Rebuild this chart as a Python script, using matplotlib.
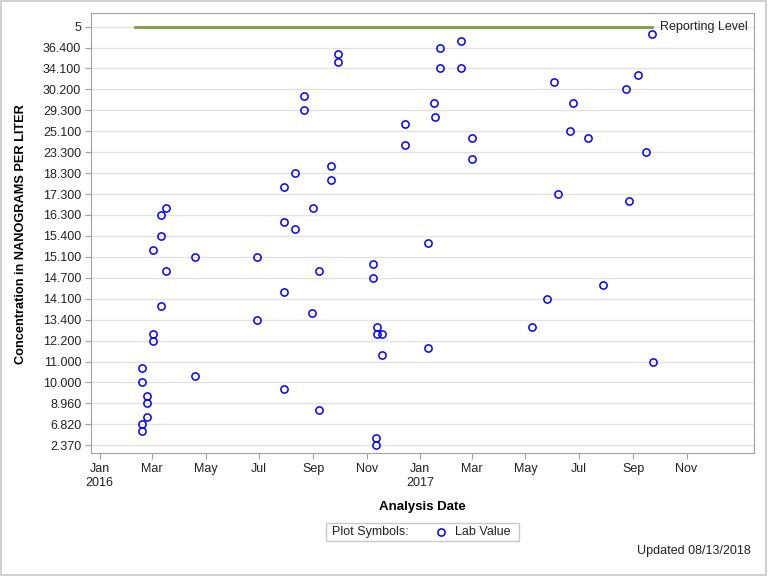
import numpy as np
import pandas as pd
import matplotlib
matplotlib.use("Agg")
import matplotlib.pyplot as plt
from matplotlib.patches import Rectangle
from matplotlib.lines import Line2D

plt.rcParams['font.family'] = ['Liberation Sans', 'DejaVu Sans']

# y axis categories, bottom to top (axis slot 0..20)
y_labels = ['2.370', '6.820', '8.960', '10.000', '11.000', '12.200', '13.400',
            '14.100', '14.700', '15.100', '15.400', '16.300', '17.300', '18.300',
            '23.300', '25.100', '29.300', '30.200', '34.100', '36.400', '5']

# lab values: sample date and position on the y axis (in slot units)
lab_dates = ['2016-02-18', '2016-02-18', '2016-02-18', '2016-02-18',
             '2016-02-24', '2016-02-24', '2016-02-24',
             '2016-03-02', '2016-03-02', '2016-03-02',
             '2016-03-11', '2016-03-11', '2016-03-11',
             '2016-03-17', '2016-03-17',
             '2016-04-19', '2016-04-19',
             '2016-06-29', '2016-06-29',
             '2016-07-29', '2016-07-29', '2016-07-29', '2016-07-29',
             '2016-08-11', '2016-08-11',
             '2016-08-21', '2016-08-21',
             '2016-08-30', '2016-08-31',
             '2016-09-07', '2016-09-07',
             '2016-09-21', '2016-09-21',
             '2016-09-29', '2016-09-29',
             '2016-11-08', '2016-11-08',
             '2016-11-11', '2016-11-11',
             '2016-11-12', '2016-11-12',
             '2016-11-18', '2016-11-18',
             '2016-12-14', '2016-12-14',
             '2017-01-10', '2017-01-10', '2017-01-17', '2017-01-18',
             '2017-01-23', '2017-01-23',
             '2017-02-17', '2017-02-17',
             '2017-03-01', '2017-03-01',
             '2017-05-08', '2017-05-26', '2017-06-03', '2017-06-07',
             '2017-06-21', '2017-06-24', '2017-07-11', '2017-07-29',
             '2017-08-24', '2017-08-27', '2017-09-07', '2017-09-16',
             '2017-09-23', '2017-09-24']
lab_pos = [3.67, 3.0, 1.0, 0.67,
           2.33, 2.0, 1.33,
           9.33, 5.33, 5.0,
           11.0, 10.0, 6.67,
           11.33, 8.33,
           9.0, 3.33,
           9.0, 6.0,
           12.33, 10.67, 7.33, 2.67,
           13.0, 10.33,
           16.67, 16.0,
           6.33, 11.33,
           8.33, 1.67,
           13.33, 12.67,
           18.67, 18.33,
           8.67, 8.0,
           0.33, 0.0,
           5.67, 5.33,
           5.33, 4.33,
           15.33, 14.33,
           9.67, 4.67, 16.33, 15.67,
           19.0, 18.0,
           19.33, 18.0,
           14.67, 13.67,
           5.67, 7.0, 17.33, 12.0,
           15.0, 16.33, 14.67, 7.67,
           17.0, 11.67, 17.67, 14.0,
           19.67, 4.0]

# reporting level line (drawn on the "5" slot)
report_dates = ['2016-02-10', '2017-09-23']
report_pos = [20, 20]

dates = pd.to_datetime(lab_dates)

fig = plt.figure(figsize=(7.68, 5.76), dpi=100)
fig.patches.append(Rectangle((0.001, 0.001), 0.997, 0.997, transform=fig.transFigure,
                             fill=False, edgecolor='#c8c8c8', linewidth=1.2))
ax = fig.add_axes([91 / 768, 1 - 453 / 576, (754 - 91) / 768, (453 - 13) / 576])

ax.plot(pd.to_datetime(report_dates), report_pos, color='#7f9c3c', linewidth=2, zorder=2)
ax.text(pd.Timestamp('2017-10-02'), 20, 'Reporting Level', va='center', ha='left',
        fontsize=9, color='#222222')
ax.plot(dates, lab_pos, linestyle='none', marker='o', markersize=5.2,
        markerfacecolor='none', markeredgecolor='#0000ff', markeredgewidth=1.1, zorder=3)

ax.set_ylim(-0.37, 20.65)
ax.set_yticks(np.arange(len(y_labels)))
ax.set_yticklabels(y_labels)
ax.set_xlim(pd.Timestamp('2015-12-22'), pd.Timestamp('2018-01-17'))

months = pd.date_range('2016-01-01', '2017-11-01', freq='2MS')
ax.set_xticks(months)
ax.set_xticklabels([m.strftime('%b') + ('\n' + m.strftime('%Y') if m.month == 1 else '')
                    for m in months])

ax.grid(axis='y', color='#e2e2e2', linewidth=1)
ax.set_axisbelow(True)
for s in ax.spines.values():
    s.set_color('#a0a0a0')
ax.tick_params(colors='#a0a0a0', labelcolor='#222222', labelsize=9, length=4, pad=3)

fig.text(21 / 768, 1 - 234 / 576, 'Concentration in NANOGRAMS PER LITER', rotation=90,
         ha='center', va='center', fontsize=9.2, fontweight='bold')
fig.text(422 / 768, 1 - 507 / 576, 'Analysis Date', ha='center', va='center',
         fontsize=9.5, fontweight='bold')

# legend box
fig.patches.append(Rectangle((326 / 768, 1 - 540.5 / 576), 193 / 768, 17.5 / 576,
                             transform=fig.transFigure, fill=False,
                             edgecolor='#c8c8c8', linewidth=1))
fig.text(332 / 768, 1 - 532 / 576, 'Plot Symbols:', ha='left', va='center', fontsize=9,
         color='#222222')
fig.lines.append(Line2D([440.7 / 768], [1 - 532 / 576], transform=fig.transFigure,
                        marker='o', markersize=5.2, markerfacecolor='none',
                        markeredgecolor='#0000ff', markeredgewidth=1.1))
fig.text(455 / 768, 1 - 532 / 576, 'Lab Value', ha='left', va='center', fontsize=9,
         color='#222222')

fig.text(751 / 768, 1 - 551 / 576, 'Updated 08/13/2018', ha='right', va='center',
         fontsize=9, color='#222222')

fig.savefig('out.png', dpi=100)
